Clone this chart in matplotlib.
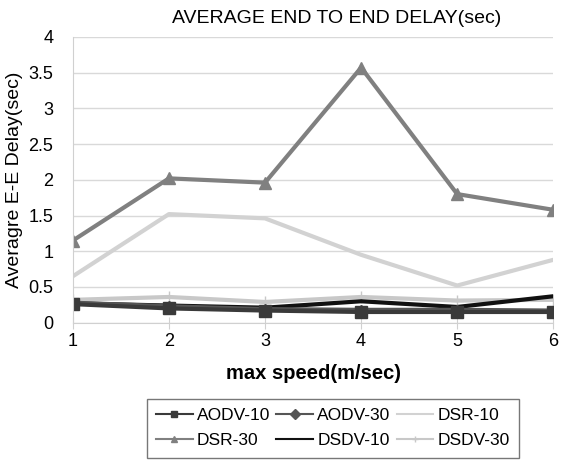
import matplotlib
matplotlib.use("Agg")
import matplotlib.pyplot as plt

plt.rcParams["font.family"] = ["Liberation Sans", "DejaVu Sans"]

speed = [1, 2, 3, 4, 5, 6]
aodv_10 = [0.26, 0.20, 0.17, 0.15, 0.15, 0.15]
aodv_30 = [0.28, 0.23, 0.19, 0.18, 0.18, 0.17]
dsr_10 = [0.65, 1.52, 1.46, 0.95, 0.52, 0.88]
dsr_30 = [1.15, 2.02, 1.96, 3.57, 1.80, 1.58]
dsdv_10 = [0.27, 0.24, 0.21, 0.30, 0.22, 0.37]
dsdv_30 = [0.32, 0.36, 0.29, 0.36, 0.31, 0.32]

fig = plt.figure(figsize=(5.83, 4.61), dpi=100)
ax = fig.add_axes([0.125, 0.30, 0.824, 0.62])

ax.plot(speed, dsr_30, color="#808080", lw=3, marker="^", ms=8, label="DSR-30")
ax.plot(speed, dsr_10, color="#d2d2d2", lw=3, label="DSR-10")
ax.plot(speed, dsdv_30, color="#c8c8c8", lw=3, marker="+", ms=8, label="DSDV-30")
ax.plot(speed, dsdv_10, color="#111111", lw=3, label="DSDV-10")
ax.plot(speed, aodv_30, color="#555555", lw=3, marker="D", ms=5, label="AODV-30")
ax.plot(speed, aodv_10, color="#3a3a3a", lw=3, marker="s", ms=8, label="AODV-10")

ax.set_xlim(1, 6)
ax.set_ylim(0, 4)
ax.set_yticks([0, 0.5, 1, 1.5, 2, 2.5, 3, 3.5, 4])
ax.set_yticklabels(["0", "0.5", "1", "1.5", "2", "2.5", "3", "3.5", "4"])
ax.set_xticks(speed)
ax.grid(axis="y", color="#d9d9d9", lw=1)
for s in ["top", "right"]:
    ax.spines[s].set_visible(False)
ax.spines["left"].set_color("#d0d0d0")
ax.spines["bottom"].set_color("#d0d0d0")
ax.tick_params(axis="y", length=0, labelsize=13, pad=14)
ax.tick_params(axis="x", direction="inout", length=8, color="#d0d0d0", labelsize=13)

ax.set_title("AVERAGE END TO END DELAY(sec)", fontsize=14, pad=10, x=0.55)
ax.set_xlabel("max speed(m/sec)", fontsize=14.5, fontweight="bold", labelpad=10)
ax.set_ylabel("Averagre E-E Delay(sec)", fontsize=14, labelpad=4)

handles, labels = ax.get_legend_handles_labels()
order = ["AODV-10", "DSR-30", "AODV-30", "DSDV-10", "DSR-10", "DSDV-30"]
hmap = dict(zip(labels, handles))
leg = fig.legend([hmap[k] for k in order], order, ncol=3, loc="lower center",
                 bbox_to_anchor=(0.571, 0.0), fontsize=12.5, frameon=True,
                 fancybox=False, edgecolor="#555555", handlelength=2.1,
                 columnspacing=0.35, handletextpad=0.25, borderpad=0.55,
                 labelspacing=0.55, borderaxespad=0.2)
for h in leg.legend_handles:
    h.set_linewidth(1.5)
    h.set_markersize(5)

fig.savefig("out.png", dpi=100)
